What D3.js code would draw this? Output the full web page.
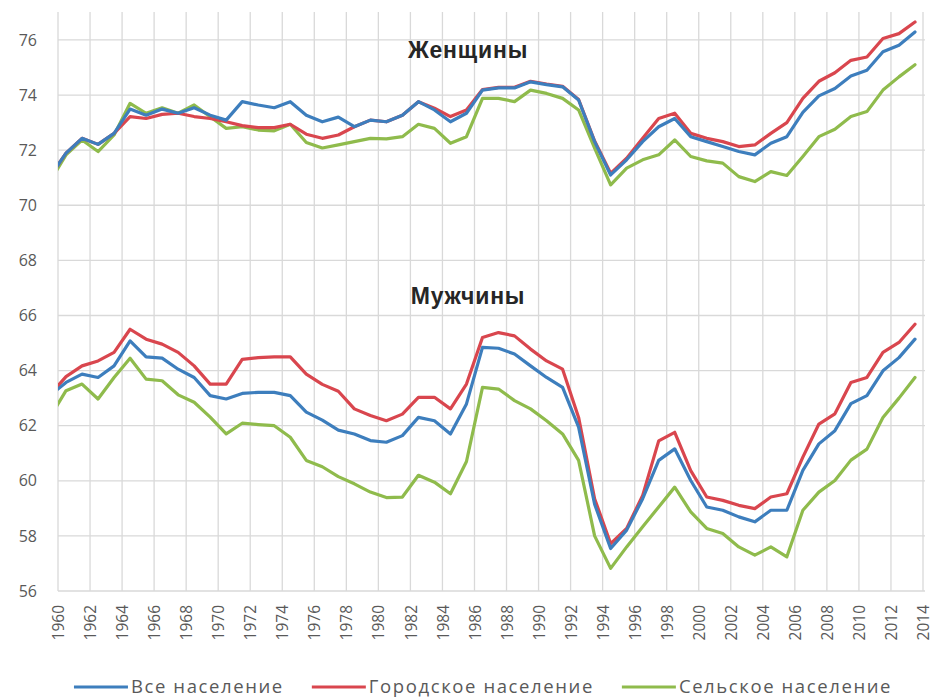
<!DOCTYPE html>
<html>
<head>
<meta charset="utf-8">
<script src="https://cdn.jsdelivr.net/npm/d3@7"></script>
<style>
  html, body { margin: 0; padding: 0; background: #ffffff; }
  svg { display: block; }
</style>
</head>
<body>
<svg id="chart" width="936" height="699"></svg>
<script>
// ---- data (annual values, plotted at the middle of each year interval) ----
const years = [1959,1960,1961,1962,1963,1964,1965,1966,1967,1968,1969,1970,1971,1972,1973,1974,1975,1976,1977,1978,
  1979,1980,1981,1982,1983,1984,1985,1986,1987,1988,1989,1990,1991,1992,1993,1994,1995,1996,1997,1998,
  1999,2000,2001,2002,2003,2004,2005,2006,2007,2008,2009,2010,2011,2012,2013];

const womenAll = [71.04,71.89,72.43,72.21,72.61,73.49,73.27,73.49,73.34,73.54,73.27,73.09,73.76,73.64,73.54,73.76,73.27,73.03,73.20,72.85,
  73.09,73.03,73.27,73.76,73.46,73.03,73.34,74.18,74.26,74.26,74.48,74.38,74.30,73.82,72.31,71.10,71.65,72.31,72.85,73.15,
  72.49,72.31,72.13,71.95,71.83,72.25,72.49,73.37,73.97,74.24,74.69,74.90,75.57,75.81,76.29];
const womenUrban = [71.04,71.89,72.43,72.21,72.61,73.22,73.15,73.30,73.34,73.22,73.15,73.03,72.89,72.82,72.82,72.94,72.58,72.43,72.55,72.85,
  73.09,73.03,73.27,73.76,73.52,73.22,73.46,74.20,74.28,74.28,74.50,74.40,74.32,73.84,72.33,71.16,71.71,72.43,73.15,73.34,
  72.61,72.43,72.31,72.13,72.19,72.61,73.00,73.88,74.50,74.81,75.26,75.38,76.05,76.23,76.65];
const womenRural = [70.86,71.83,72.37,71.95,72.55,73.70,73.34,73.54,73.34,73.64,73.21,72.79,72.85,72.73,72.70,72.94,72.28,72.08,72.19,72.31,
  72.43,72.41,72.49,72.94,72.79,72.25,72.49,73.88,73.88,73.76,74.18,74.06,73.88,73.46,72.07,70.74,71.35,71.65,71.83,72.37,
  71.77,71.61,71.53,71.04,70.86,71.22,71.08,71.77,72.49,72.76,73.22,73.40,74.18,74.66,75.10];

const menAll = [63.09,63.57,63.87,63.75,64.17,65.08,64.50,64.45,64.05,63.75,63.09,62.97,63.17,63.21,63.21,63.09,62.49,62.20,61.84,61.70,
  61.46,61.40,61.64,62.30,62.18,61.70,62.79,64.84,64.81,64.60,64.17,63.75,63.39,61.95,59.15,57.54,58.21,59.35,60.74,61.16,
  60.01,59.05,58.93,58.69,58.51,58.93,58.93,60.38,61.34,61.82,62.80,63.09,63.99,64.47,65.14];
const menUrban = [63.12,63.78,64.17,64.35,64.66,65.50,65.14,64.96,64.66,64.17,63.51,63.51,64.41,64.47,64.50,64.50,63.87,63.50,63.25,62.61,
  62.37,62.18,62.42,63.03,63.03,62.61,63.51,65.20,65.38,65.26,64.78,64.35,64.05,62.30,59.35,57.72,58.27,59.47,61.45,61.76,
  60.37,59.41,59.29,59.11,58.99,59.41,59.53,60.86,62.06,62.43,63.57,63.75,64.66,65.02,65.68];
const menRural = [62.31,63.27,63.51,62.97,63.75,64.45,63.69,63.63,63.12,62.85,62.31,61.70,62.09,62.04,62.00,61.58,60.74,60.51,60.15,59.89,
  59.59,59.39,59.41,60.20,59.95,59.53,60.70,63.39,63.33,62.91,62.61,62.18,61.70,60.74,58.00,56.82,57.60,58.33,59.05,59.77,
  58.87,58.27,58.09,57.60,57.30,57.60,57.24,58.93,59.59,60.01,60.75,61.15,62.30,63.00,63.75];

const seriesNames = ["Все население", "Городское население", "Сельское население"];
const seriesColors = ["#3d7ebd", "#d9464e", "#8fbb4c"];
const groupTitles = ["Женщины", "Мужчины"];
const groupTitleValues = [75.35, 66.4];   // baseline position of the titles, in chart units
const xTickLabels = [1960,1962,1964,1966,1968,1970,1972,1974,1976,1978,1980,1982,1984,1986,1988,
  1990,1992,1994,1996,1998,2000,2002,2004,2006,2008,2010,2012,2014];
const yTickLabels = [56,58,60,62,64,66,68,70,72,74,76];

// ---- layout ----
const svg = d3.select("#chart");
const plot = { left: 58, right: 923, top: 12, bottom: 591 };
const x = d3.scaleLinear().domain([1960, 2014]).range([plot.left, plot.right]);
const y = d3.scaleLinear().domain([56, 77]).range([plot.bottom, plot.top + 0.4]);

svg.append("defs").append("clipPath").attr("id", "plotClip")
  .append("rect").attr("x", plot.left).attr("y", 0)
  .attr("width", plot.right - plot.left + 4).attr("height", plot.bottom + 2);

// gridlines
const grid = svg.append("g");
grid.selectAll("line.h").data(yTickLabels).join("line")
  .attr("x1", plot.left).attr("x2", plot.right + 2)
  .attr("y1", d => y(d)).attr("y2", d => y(d))
  .attr("stroke", "#d9d9d9").attr("stroke-width", 1.3);
grid.selectAll("line.v").data(xTickLabels).join("line")
  .attr("x1", d => x(d)).attr("x2", d => x(d))
  .attr("y1", plot.top).attr("y2", plot.bottom)
  .attr("stroke", "#d9d9d9").attr("stroke-width", 1.3);

// y axis labels
const yAxis = d3.axisLeft(y).tickValues(yTickLabels).tickSize(0).tickPadding(0).tickFormat(d3.format("d"));
const gy = svg.append("g").attr("transform", "translate(37,0)").call(yAxis);
gy.select(".domain").remove();
gy.selectAll("text").attr("font-family", "'Open Sans', sans-serif").attr("font-size", 16)
  .attr("fill", "#595959");

// x axis labels (rotated)
const xAxis = d3.axisBottom(x).tickValues(xTickLabels).tickSize(0).tickPadding(0).tickFormat(d3.format("d"));
const gx = svg.append("g").attr("transform", `translate(0,${plot.bottom})`).call(xAxis);
gx.select(".domain").remove();
gx.selectAll("text")
  .attr("font-family", "'Open Sans', sans-serif").attr("font-size", 15.5).attr("fill", "#595959")
  .attr("text-anchor", "end")
  .attr("transform", "translate(0,14) rotate(-90)")
  .attr("x", 0).attr("y", 0).attr("dy", "0.36em");

// lines
const groups = [
  [womenAll, womenUrban, womenRural],
  [menAll, menUrban, menRural]
];
const line = d3.line()
  .x((d, i) => x(years[i] + 0.5))
  .y(d => y(d));
const lines = svg.append("g").attr("clip-path", "url(#plotClip)");
groups.forEach(g => {
  // draw rural first, then urban, then all on top
  [2, 1, 0].forEach(k => {
    lines.append("path").datum(g[k])
      .attr("d", line)
      .attr("fill", "none")
      .attr("stroke", seriesColors[k])
      .attr("stroke-width", 3.2)
      .attr("stroke-linejoin", "round")
      .attr("stroke-linecap", "round");
  });
});

// group titles
svg.selectAll("text.title").data(groupTitles).join("text")
  .attr("x", 468).attr("y", (d, i) => y(groupTitleValues[i]))
  .attr("text-anchor", "middle")
  .attr("font-family", "'Liberation Sans', Arial, sans-serif")
  .attr("font-weight", "bold").attr("font-size", 23)
  .attr("letter-spacing", 0.8)
  .attr("fill", "#262626")
  .text(d => d);

// legend
const legend = svg.append("g");
const legendY = 687;
const items = legend.selectAll("g.item").data(seriesNames).join("g");
items.append("line").attr("x1", 0).attr("x2", 54).attr("y1", 0).attr("y2", 0)
  .attr("stroke", (d, i) => seriesColors[i]).attr("stroke-width", 3);
items.append("text").attr("x", 57).attr("y", 0).attr("dy", "0.35em")
  .attr("font-family", "'Open Sans', sans-serif").attr("font-size", 18.5)
  .attr("letter-spacing", 1.6)
  .attr("fill", "#595959").text(d => d);
let cursor = 0;
const offsets = [];
items.each(function() {
  offsets.push(cursor);
  const w = d3.select(this).select("text").node().getComputedTextLength();
  cursor += 57 + w + 28;
});
const total = cursor - 28;
const startX = 483 - total / 2;
items.attr("transform", (d, i) => `translate(${startX + offsets[i]},${legendY})`);
</script>
</body>
</html>
